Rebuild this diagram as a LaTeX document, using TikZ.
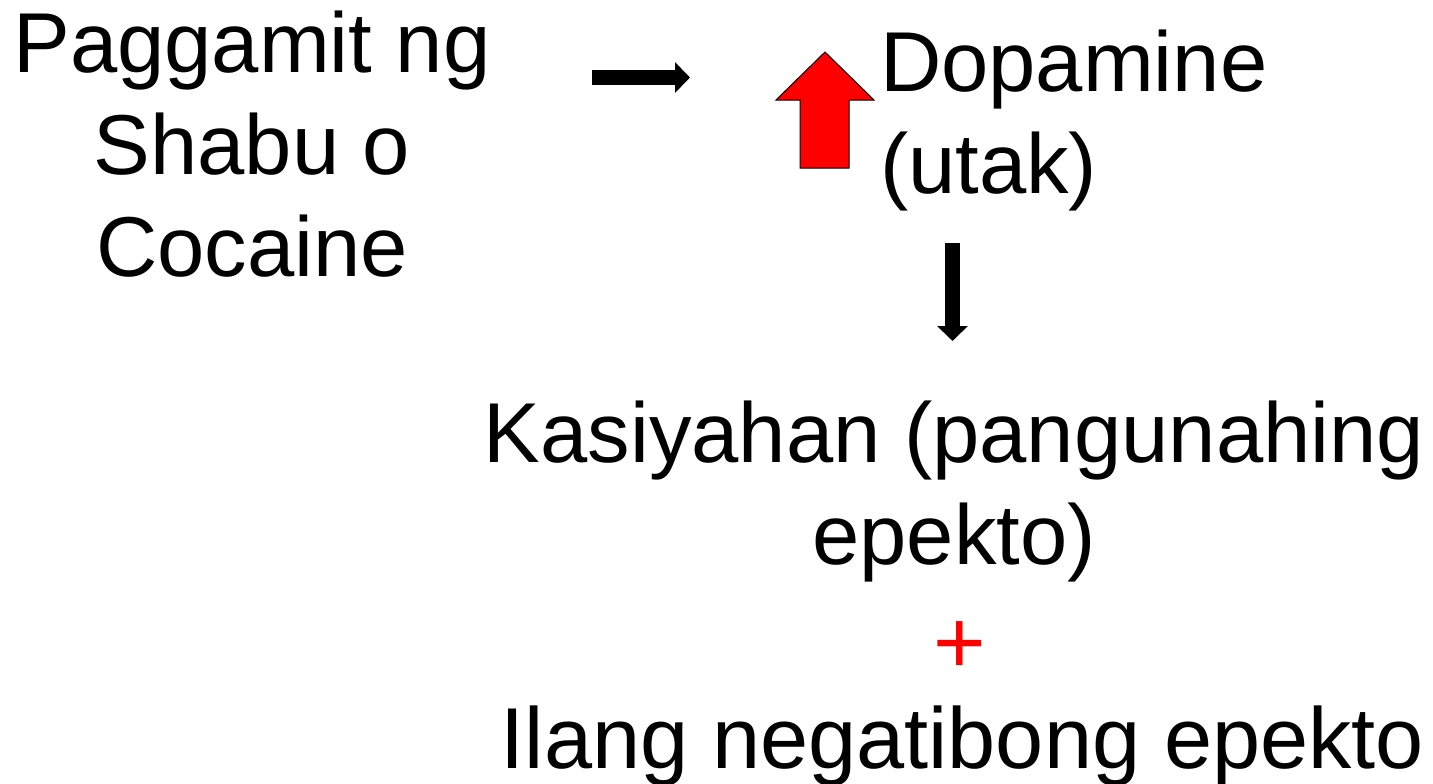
\documentclass[tikz,border=0pt]{standalone}
\usepackage{fontspec}
\setmainfont{Liberation Sans}
\usetikzlibrary{arrows.meta}
\begin{document}
\begin{tikzpicture}[x=1pt,y=-1pt,
  txt/.style={inner sep=0pt,outer sep=0pt,font=\fontsize{85}{102}\selectfont},
  blackarrow/.style={line width=15pt,-{Triangle[width=30pt,length=15pt]}},
  redarrow/.style={fill=red,draw=black,line width=1pt,line join=miter}]
\useasboundingbox (0,0) rectangle (1433,784);
% text blocks (base anchor = baseline of last line)
\node[txt,align=center,anchor=base] (src) at (252,276) {Paggamit ng\\Shabu o\\Cocaine};
\node[txt,align=left,anchor=base west] (dop) at (880,193) {Dopamine\\(utak)};
\node[txt,align=center,anchor=base] (res) at (954,564) {Kasiyahan (pangunahing\\epekto)};
\node[inner sep=0pt,font=\fontsize{90}{100}\selectfont,text=red,anchor=base] (plus) at (960,673.5) {+};
\node[txt,font=\fontsize{86.5}{102}\selectfont,anchor=base] (neg) at (962.5,768) {Ilang negatibong epekto};
% arrows
\coordinate (h1) at (592,77.5);
\coordinate (h2) at (690,77.5);
\draw[blackarrow] (h1) -- (h2);
\coordinate (v1) at (952.5,243);
\coordinate (v2) at (952.5,341);
\draw[blackarrow] (v1) -- (v2);
\draw[redarrow] (825,52) -- (874,100) -- (849,100) -- (849,168) -- (800,168) -- (800,100) -- (776,100) -- cycle;
\end{tikzpicture}
\end{document}
